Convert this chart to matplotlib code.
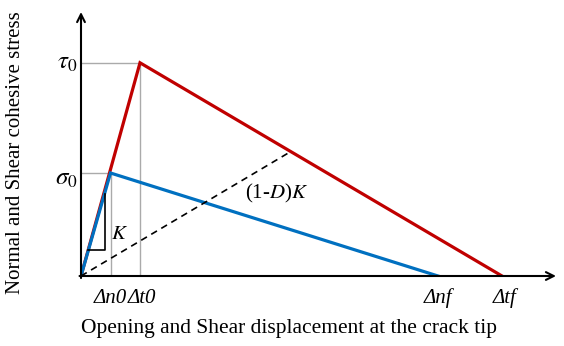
import matplotlib
matplotlib.use("Agg")
import matplotlib.pyplot as plt

plt.rcParams['font.family'] = ['Liberation Serif', 'DejaVu Serif']
plt.rcParams['mathtext.fontset'] = 'stix'

# bilinear traction-separation laws (normal and shear)
delta_n0, delta_nf = 1.0, 12.1
delta_t0, delta_tf = 2.0, 14.27
sigma0, tau0 = 1.0, 2.07

normal_x = [0, delta_n0, delta_nf]
normal_y = [0, sigma0, 0]
shear_x = [0, delta_t0, delta_tf]
shear_y = [0, tau0, 0]

# unloading path with degraded stiffness (1-D)K
unload_x = [0, 7.12]
unload_y = [0, 1.21]

# stiffness triangle on the initial slope
tri_x = [0.25, 0.8, 0.8]
tri_y = [0.25, 0.25, 0.8]

xmax, ymax = 16.1, 2.563

fig = plt.figure(figsize=(5.64, 3.46), dpi=100)
ax = fig.add_axes([81 / 564, 70 / 346, 475 / 564, 264 / 346])
ax.set_xlim(0, xmax)
ax.set_ylim(0, ymax)
ax.axis('off')

# guide lines to the peaks
grey = '#aaaaaa'
ax.plot([0, delta_t0, delta_t0], [tau0, tau0, 0], color=grey, lw=1)
ax.plot([0, delta_n0, delta_n0], [sigma0, sigma0, 0], color=grey, lw=1)

ax.plot(shear_x, shear_y, color='#c00000', lw=2.3, solid_joinstyle='miter')
ax.plot(normal_x, normal_y, color='#0070c0', lw=2.3, solid_joinstyle='miter')
ax.plot(unload_x, unload_y, color='black', lw=1.2, ls=(0, (4, 3)))
ax.plot(tri_x, tri_y, color='black', lw=1.2)

# axes with arrow heads
arrow = dict(arrowstyle='->', lw=1.5, color='black', mutation_scale=14,
             shrinkA=0, shrinkB=0)
ax.annotate('', xy=(xmax, 0), xytext=(-0.05, 0), arrowprops=arrow,
            annotation_clip=False)
ax.annotate('', xy=(0, ymax), xytext=(0, -0.02), arrowprops=arrow,
            annotation_clip=False)

ax.text(-0.12, tau0, r'$\tau_0$', fontsize=18, ha='right', va='center')
ax.text(-0.12, sigma0 - 0.06, r'$\sigma_0$', fontsize=18, ha='right', va='center')

tick_kw = dict(fontsize=15, style='italic', ha='center', va='center')
ax.text(delta_n0 - 0.02, -0.22, 'Δn0', **tick_kw)
ax.text(delta_t0 + 0.08, -0.22, 'Δt0', **tick_kw)
ax.text(delta_nf, -0.21, 'Δnf', **tick_kw)
ax.text(delta_tf + 0.1, -0.21, 'Δtf', **tick_kw)

ax.text(1.3, 0.4, '$K$', fontsize=15, ha='center', va='center')
ax.text(6.64, 0.8, '(1-$D$)$K$', fontsize=15, ha='center', va='center')

fig.text(0.027, 0.56, 'Normal and Shear cohesive stress', rotation=90,
         fontsize=15, ha='center', va='center')
fig.text(0.512, 0.05, 'Opening and Shear displacement at the crack tip',
         fontsize=15.5, ha='center', va='center')

fig.savefig('out.png', dpi=100)
